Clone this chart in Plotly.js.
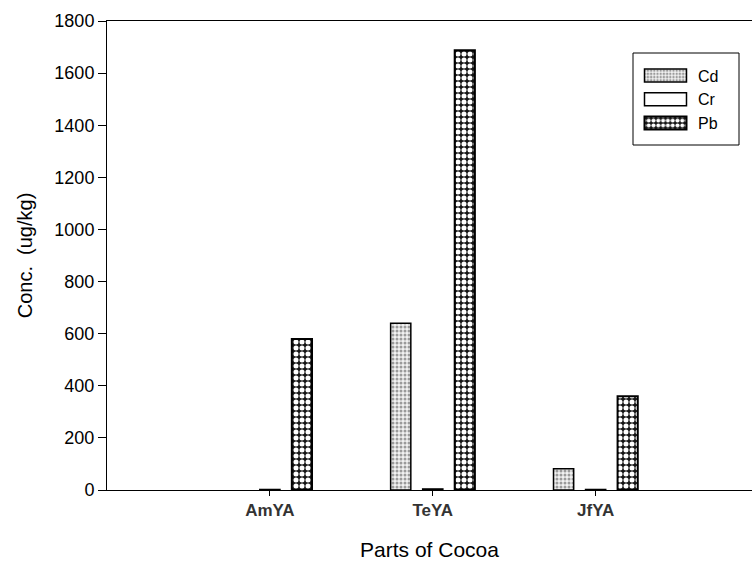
<!DOCTYPE html>
<html>
<head>
<meta charset="utf-8">
<script src="https://cdn.plot.ly/plotly-3.0.1.min.js"></script>
<style>html,body{margin:0;padding:0;background:#fff}#chart{width:752px;height:565px}</style>
</head>
<body>
<div id="chart"></div>
<script>
const categories = ["AmYA", "TeYA", "JfYA"];
const cdValues = [null, 640, 82];
const crValues = [2, 4, 2];
const pbValues = [580, 1688, 360];
const seriesNames = ["Cd", "Cr", "Pb"];
const yTicks = [0, 200, 400, 600, 800, 1000, 1200, 1400, 1600, 1800];

const FONT = "Liberation Sans, Arial, sans-serif";

const traces = [
  {
    type: "bar", name: seriesNames[0], x: categories, y: cdValues,
    marker: {
      color: "#ffffff",
      line: {color: "#000000", width: 1.5},
      pattern: {shape: ".", fgcolor: "#9a9a9a", bgcolor: "#f2f2f2", size: 4, solidity: 0.45}
    }
  },
  {
    type: "bar", name: seriesNames[1], x: categories, y: crValues,
    marker: {color: "#ffffff", line: {color: "#000000", width: 1.5}}
  },
  {
    type: "bar", name: seriesNames[2], x: categories, y: pbValues,
    marker: {
      color: "#000000",
      line: {color: "#000000", width: 2},
      pattern: {shape: ".", fgcolor: "#ffffff", bgcolor: "#151515", size: 6, solidity: 0.55}
    }
  }
];

const layout = {
  width: 752, height: 565,
  margin: {l: 107, r: 0, t: 21, b: 75},
  paper_bgcolor: "#ffffff", plot_bgcolor: "#ffffff",
  font: {family: FONT, color: "#000000"},
  barmode: "group",
  bargap: 0.41,
  bargroupgap: 0.37,
  showlegend: true,
  legend: {
    x: 0.8155, xanchor: "left",
    y: 0.92, yanchor: "top",
    bgcolor: "rgba(0,0,0,0)",
    borderwidth: 0,
    font: {family: FONT, size: 16, color: "#000000"},
    itemwidth: 55,
    traceorder: "normal"
  },
  xaxis: {
    type: "category",
    range: [-1, 2.96],
    showline: true, linecolor: "#000000", linewidth: 1, mirror: true,
    ticks: "outside", ticklen: 5, tickcolor: "#000000", tickwidth: 1,
    tickfont: {family: FONT, size: 17, color: "#333333", weight: "bold"},
    showgrid: false, zeroline: false,
    title: {text: "Parts of Cocoa", font: {family: FONT, size: 21, color: "#000000"}, standoff: 22}
  },
  yaxis: {
    range: [0, 1800],
    tickvals: yTicks,
    showline: true, linecolor: "#000000", linewidth: 1, mirror: false,
    ticks: "outside", ticklen: 8, tickcolor: "#000000", tickwidth: 1,
    tickfont: {family: FONT, size: 18, color: "#000000"},
    showgrid: false, zeroline: false,
    title: {text: "Conc.&nbsp; (ug/kg)", font: {family: FONT, size: 20, color: "#000000"}, standoff: 16}
  },
  shapes: [
    {type: "rect", xref: "paper", yref: "paper",
     x0: (633 - 107) / 645, x1: (739 - 107) / 645,
     y0: (490 - 145) / 469, y1: (490 - 53) / 469,
     line: {color: "#000000", width: 1}, fillcolor: "rgba(0,0,0,0)", layer: "above"}
  ]
};

Plotly.newPlot("chart", traces, layout, {displayModeBar: false, staticPlot: true}).then(function (gd) {
  const paths = gd.querySelectorAll(".legend .legendpoints path");
  paths.forEach(function (p) {
    p.setAttribute("d", "M21,6.5H-21V-6.5H21Z");
  });
});
</script>
</body>
</html>
